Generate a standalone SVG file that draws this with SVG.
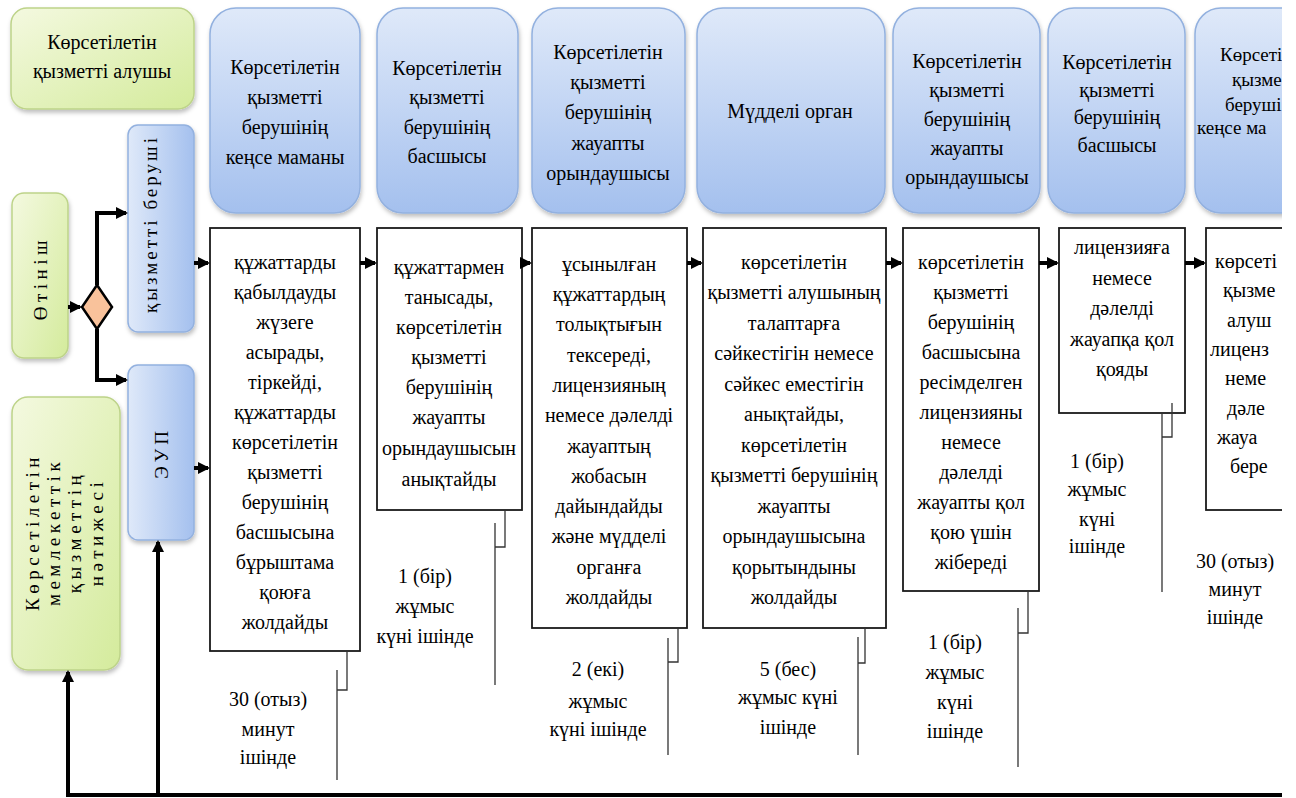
<svg xmlns="http://www.w3.org/2000/svg" width="1296" height="798" viewBox="0 0 1296 798">
<defs>
<linearGradient id="gGreen" x1="0" y1="0" x2="1" y2="1"><stop offset="0" stop-color="#f4f9e0"/><stop offset="1" stop-color="#d4eb9c"/></linearGradient>
<linearGradient id="gBlueV" x1="0" y1="0" x2="0" y2="1"><stop offset="0" stop-color="#dfe9f9"/><stop offset="1" stop-color="#a4c0ee"/></linearGradient>
<linearGradient id="gBlueH" x1="0" y1="0" x2="1" y2="0"><stop offset="0" stop-color="#dfe9f9"/><stop offset="1" stop-color="#a4c0ee"/></linearGradient>
<filter id="sh" x="-10%" y="-10%" width="130%" height="130%"><feDropShadow dx="1" dy="3" stdDeviation="2" flood-color="#000" flood-opacity="0.25"/></filter>
<marker id="ar" viewBox="0 0 12 12" refX="10" refY="6" markerWidth="12" markerHeight="12" markerUnits="userSpaceOnUse" orient="auto"><path d="M0,0 L12,6 L0,12 z" fill="#000"/></marker>
<clipPath id="page"><rect x="0" y="0" width="1282" height="798"/></clipPath>
</defs>
<style>
.hdr{fill:url(#gBlueV);stroke:#93b1df;stroke-width:1.5;filter:url(#sh)}
.grn{fill:url(#gGreen);stroke:#bdd389;stroke-width:1.5;filter:url(#sh)}
.vb{fill:url(#gBlueH);stroke:#93b1df;stroke-width:1.5;filter:url(#sh)}
.box{fill:#fff;stroke:#1a1a1a;stroke-width:1.8}
.con{fill:none;stroke:#000;stroke-width:4}
.arr{marker-end:url(#ar)}
.brk{fill:none;stroke:#333;stroke-width:1.3}
</style>
<rect width="1296" height="798" fill="#fff"/>
<g clip-path="url(#page)">
<g id="recipient"><rect class="grn" x="11" y="8" width="183" height="101" rx="16"/>
<text style="font-family:'Liberation Serif',serif !important" font-size="20" text-anchor="middle"><tspan x="102" y="49">Көрсетілетін</tspan><tspan x="102" y="78">қызметті алушы</tspan></text></g>
<g id="application"><rect class="grn" x="12" y="193" width="56" height="165" rx="12"/>
<text style="font-family:'Liberation Serif',serif !important" font-size="19" letter-spacing="4.5" text-anchor="middle" transform="translate(47,278) rotate(-90)" x="0" y="0">Өтініш</text></g>
<g id="result"><rect class="grn" x="12" y="397" width="108" height="273" rx="16"/>
<text style="font-family:'Liberation Serif',serif !important" font-size="19" letter-spacing="4.5" text-anchor="middle" transform="translate(0,532) rotate(-90)"><tspan x="0" y="39">Көрсетілетін</tspan><tspan x="0" y="60">мемлекеттік</tspan><tspan x="0" y="81">қызметтің</tspan><tspan x="0" y="103">нәтижесі</tspan></text></g>
<g id="gateway"><polygon points="97,285 112,307 97,329 82,307" fill="#f9c29b" stroke="#000" stroke-width="2.5"/></g>
<g id="provider"><rect class="vb" x="128" y="125" width="66" height="207" rx="10"/>
<text style="font-family:'Liberation Serif',serif !important" font-size="19" letter-spacing="3" text-anchor="middle" transform="translate(157,224) rotate(-90)" x="0" y="0">қызметті беруші</text></g>
<g id="eup"><rect class="vb" x="128" y="365" width="66" height="175" rx="10"/>
<text style="font-family:'Liberation Serif',serif !important" font-size="19" letter-spacing="4" text-anchor="middle" transform="translate(168,453) rotate(-90)" x="0" y="0">ЭУП</text></g>

<g id="h1"><rect class="hdr" x="210" y="8" width="150" height="205" rx="26"/>
<text style="font-family:'Liberation Serif',serif !important" font-size="20" text-anchor="middle"><tspan x="285" y="74">Көрсетілетін</tspan><tspan x="285" y="104">қызметті</tspan><tspan x="285" y="134">берушінің</tspan><tspan x="285" y="164">кеңсе маманы</tspan></text></g>
<g id="h2"><rect class="hdr" x="377" y="8" width="141" height="205" rx="26"/>
<text style="font-family:'Liberation Serif',serif !important" font-size="20" text-anchor="middle"><tspan x="447" y="75">Көрсетілетін</tspan><tspan x="447" y="104">қызметті</tspan><tspan x="447" y="134">берушінің</tspan><tspan x="447" y="163">басшысы</tspan></text></g>
<g id="h3"><rect class="hdr" x="532" y="8" width="153" height="205" rx="26"/>
<text style="font-family:'Liberation Serif',serif !important" font-size="20" text-anchor="middle"><tspan x="608" y="59">Көрсетілетін</tspan><tspan x="608" y="89">қызметті</tspan><tspan x="608" y="119">берушінің</tspan><tspan x="608" y="150">жауапты</tspan><tspan x="608" y="180">орындаушысы</tspan></text></g>
<g id="h4"><rect class="hdr" x="697" y="8" width="188" height="205" rx="26"/>
<text style="font-family:'Liberation Serif',serif !important" font-size="20" text-anchor="middle" x="790" y="118">Мүдделі орган</text></g>
<g id="h5"><rect class="hdr" x="893" y="8" width="147" height="205" rx="26"/>
<text style="font-family:'Liberation Serif',serif !important" font-size="20" text-anchor="middle"><tspan x="967" y="68">Көрсетілетін</tspan><tspan x="967" y="97">қызметті</tspan><tspan x="967" y="126">берушінің</tspan><tspan x="967" y="155">жауапты</tspan><tspan x="967" y="184">орындаушысы</tspan></text></g>
<g id="h6"><rect class="hdr" x="1048" y="8" width="137" height="205" rx="26"/>
<text style="font-family:'Liberation Serif',serif !important" font-size="20" text-anchor="middle"><tspan x="1117" y="69">Көрсетілетін</tspan><tspan x="1117" y="97">қызметті</tspan><tspan x="1117" y="124">берушінің</tspan><tspan x="1117" y="152">басшысы</tspan></text></g>
<g id="h7"><rect class="hdr" x="1195" y="8" width="150" height="205" rx="26"/>
<text style="font-family:'Liberation Serif',serif !important" font-size="19" text-anchor="start"><tspan x="1220" y="61">Көрсеті</tspan><tspan x="1232" y="86">қызме</tspan><tspan x="1225" y="111">беруші</tspan><tspan x="1197" y="134">кеңсе ма</tspan></text></g>

<g id="p1"><rect class="box" x="210" y="228" width="150" height="423"/>
<text style="font-family:'Liberation Serif',serif !important" font-size="20" text-anchor="middle"><tspan x="285" y="269">құжаттарды</tspan><tspan x="285" y="299">қабылдауды</tspan><tspan x="285" y="329">жүзеге</tspan><tspan x="285" y="359">асырады,</tspan><tspan x="285" y="389">тіркейді,</tspan><tspan x="285" y="419">құжаттарды</tspan><tspan x="285" y="449">көрсетілетін</tspan><tspan x="285" y="479">қызметті</tspan><tspan x="285" y="509">берушінің</tspan><tspan x="285" y="539">басшысына</tspan><tspan x="285" y="569">бұрыштама</tspan><tspan x="285" y="599">қоюға</tspan><tspan x="285" y="629">жолдайды</tspan></text></g>
<g id="p2"><rect class="box" x="377" y="228" width="145" height="282"/>
<text style="font-family:'Liberation Serif',serif !important" font-size="20" text-anchor="middle"><tspan x="449" y="274">құжаттармен</tspan><tspan x="449" y="304">танысады,</tspan><tspan x="449" y="334">көрсетілетін</tspan><tspan x="449" y="364">қызметті</tspan><tspan x="449" y="394">берушінің</tspan><tspan x="449" y="424">жауапты</tspan><tspan x="449" y="455">орындаушысын</tspan><tspan x="449" y="486">анықтайды</tspan></text></g>
<g id="p3"><rect class="box" x="532" y="228" width="155" height="400"/>
<text style="font-family:'Liberation Serif',serif !important" font-size="20" text-anchor="middle"><tspan x="609" y="271">ұсынылған</tspan><tspan x="609" y="301">құжаттардың</tspan><tspan x="609" y="331">толықтығын</tspan><tspan x="609" y="362">тексереді,</tspan><tspan x="609" y="392">лицензияның</tspan><tspan x="609" y="422">немесе дәлелді</tspan><tspan x="609" y="453">жауаптың</tspan><tspan x="609" y="483">жобасын</tspan><tspan x="609" y="513">дайындайды</tspan><tspan x="609" y="543">және мүдделі</tspan><tspan x="609" y="574">органға</tspan><tspan x="609" y="604">жолдайды</tspan></text></g>
<g id="p4"><rect class="box" x="703" y="228" width="183" height="400"/>
<text style="font-family:'Liberation Serif',serif !important" font-size="20" text-anchor="middle"><tspan x="794" y="269">көрсетілетін</tspan><tspan x="794" y="299">қызметті алушының</tspan><tspan x="794" y="330">талаптарға</tspan><tspan x="794" y="360">сәйкестігін немесе</tspan><tspan x="794" y="391">сәйкес еместігін</tspan><tspan x="794" y="421">анықтайды,</tspan><tspan x="794" y="452">көрсетілетін</tspan><tspan x="794" y="482">қызметті берушінің</tspan><tspan x="794" y="513">жауапты</tspan><tspan x="794" y="543">орындаушысына</tspan><tspan x="794" y="574">қорытындыны</tspan><tspan x="794" y="604">жолдайды</tspan></text></g>
<g id="p5"><rect class="box" x="903" y="228" width="136" height="363"/>
<text style="font-family:'Liberation Serif',serif !important" font-size="20" text-anchor="middle"><tspan x="971" y="269">көрсетілетін</tspan><tspan x="971" y="299">қызметті</tspan><tspan x="971" y="329">берушінің</tspan><tspan x="971" y="359">басшысына</tspan><tspan x="971" y="389">ресімделген</tspan><tspan x="971" y="419">лицензияны</tspan><tspan x="971" y="449">немесе</tspan><tspan x="971" y="479">дәлелді</tspan><tspan x="971" y="509">жауапты қол</tspan><tspan x="971" y="539">қою үшін</tspan><tspan x="971" y="569">жібереді</tspan></text></g>
<g id="p6"><rect class="box" x="1059" y="228" width="126" height="185"/>
<text style="font-family:'Liberation Serif',serif !important" font-size="20" text-anchor="middle"><tspan x="1122" y="254">лицензияға</tspan><tspan x="1122" y="285">немесе</tspan><tspan x="1122" y="315">дәлелді</tspan><tspan x="1122" y="346">жауапқа қол</tspan><tspan x="1122" y="376">қояды</tspan></text></g>
<g id="p7"><rect class="box" x="1206" y="228" width="120" height="282"/>
<text style="font-family:'Liberation Serif',serif !important" font-size="20" text-anchor="start"><tspan x="1215" y="268">көрсеті</tspan><tspan x="1223" y="297">қызме</tspan><tspan x="1227" y="327">алуш</tspan><tspan x="1210" y="356">лиценз</tspan><tspan x="1225" y="385">неме</tspan><tspan x="1227" y="415">дәле</tspan><tspan x="1217" y="444">жауа</tspan><tspan x="1230" y="473">бере</tspan></text></g>

<g id="times">
<text style="font-family:'Liberation Serif',serif !important" font-size="20" text-anchor="middle"><tspan x="268" y="706">30 (отыз)</tspan><tspan x="268" y="736">минут</tspan><tspan x="268" y="764">ішінде</tspan></text>
<text style="font-family:'Liberation Serif',serif !important" font-size="20" text-anchor="middle"><tspan x="425" y="583">1 (бір)</tspan><tspan x="425" y="613">жұмыс</tspan><tspan x="425" y="643">күні ішінде</tspan></text>
<text style="font-family:'Liberation Serif',serif !important" font-size="20" text-anchor="middle"><tspan x="598" y="676">2 (екі)</tspan><tspan x="598" y="708">жұмыс</tspan><tspan x="598" y="736">күні ішінде</tspan></text>
<text style="font-family:'Liberation Serif',serif !important" font-size="20" text-anchor="middle"><tspan x="788" y="676">5 (бес)</tspan><tspan x="788" y="704">жұмыс күні</tspan><tspan x="788" y="734">ішінде</tspan></text>
<text style="font-family:'Liberation Serif',serif !important" font-size="20" text-anchor="middle"><tspan x="955" y="649">1 (бір)</tspan><tspan x="955" y="679">жұмыс</tspan><tspan x="955" y="709">күні</tspan><tspan x="955" y="738">ішінде</tspan></text>
<text style="font-family:'Liberation Serif',serif !important" font-size="20" text-anchor="middle"><tspan x="1097" y="468">1 (бір)</tspan><tspan x="1097" y="496">жұмыс</tspan><tspan x="1097" y="526">күні</tspan><tspan x="1097" y="553">ішінде</tspan></text>
<text style="font-family:'Liberation Serif',serif !important" font-size="20" text-anchor="middle"><tspan x="1235" y="568">30 (отыз)</tspan><tspan x="1235" y="596">минут</tspan><tspan x="1235" y="624">ішінде</tspan></text>
</g>

<g id="connectors">
<path class="brk" d="M347,651 V690 H337 M337,670 V780"/>
<path class="brk" d="M505,510 V547 H495 M495,523 V685"/>
<path class="brk" d="M678,628 V662 H668 M668,638 V755"/>
<path class="brk" d="M865,628 V663 H858 M858,637 V755"/>
<path class="brk" d="M1028,591 V633 H1018 M1018,608 V767"/>
<path class="brk" d="M1172,403 V437 H1162 M1162,413 V592"/>
<path class="con arr" d="M68,307 H80"/>
<path class="con arr" d="M97,285 V213 H126"/>
<path class="con arr" d="M97,329 V380 H126"/>
<path class="con arr" d="M194,263 H208"/>
<path class="con arr" d="M194,468 H208"/>
<path class="con arr" d="M360,263 H375"/>
<path class="con arr" d="M522,263 H530"/>
<path class="con arr" d="M687,263 H701"/>
<path class="con arr" d="M886,263 H901"/>
<path class="con arr" d="M1039,263 H1057"/>
<path class="con arr" d="M1185,263 H1204"/>
<path class="con arr" d="M1290,795 H68 V672"/>
<path class="con arr" d="M158,795 V542"/>
</g>
</g>
</svg>
